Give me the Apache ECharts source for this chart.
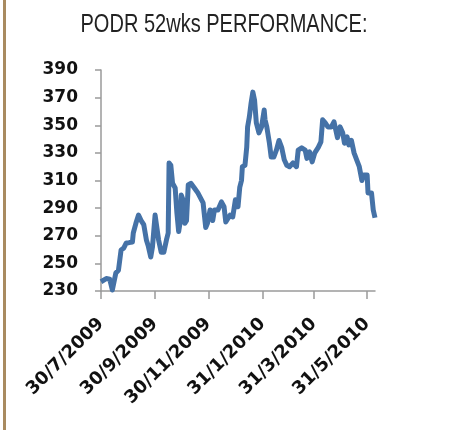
<!DOCTYPE html>
<html>
<head>
<meta charset="utf-8">
<title>PODR 52wks PERFORMANCE</title>
<script src="https://cdn.jsdelivr.net/npm/echarts@6/dist/echarts.min.js"></script>
<style>
  html, body { margin: 0; padding: 0; background: #fff; }
  #wrap { position: relative; width: 473px; height: 430px; }
  #edge { position: absolute; left: 3px; top: 0; width: 3px; height: 430px; background: #a98b60; }
  #chart { position: absolute; left: 0; top: 0; width: 473px; height: 430px; }
</style>
</head>
<body>
<div id="wrap">
  <div id="edge"></div>
  <div id="chart"></div>
</div>
<script>
// closes (approx.)
var dates = [
  '2009-07-30', '2009-08-05', '2009-08-09', '2009-08-12', '2009-08-14', '2009-08-16',
  '2009-08-19', '2009-08-22', '2009-08-25', '2009-08-28', '2009-08-31', '2009-09-04',
  '2009-09-05', '2009-09-08', '2009-09-11', '2009-09-14', '2009-09-17', '2009-09-20',
  '2009-09-22', '2009-09-25', '2009-09-27', '2009-09-30', '2009-10-02', '2009-10-04',
  '2009-10-07', '2009-10-10', '2009-10-13', '2009-10-15', '2009-10-16', '2009-10-18',
  '2009-10-20', '2009-10-23', '2009-10-25', '2009-10-27', '2009-10-29', '2009-10-30',
  '2009-11-01', '2009-11-03', '2009-11-05', '2009-11-07', '2009-11-10', '2009-11-14',
  '2009-11-18', '2009-11-20', '2009-11-24', '2009-11-27', '2009-11-29', '2009-12-02',
  '2009-12-05', '2009-12-07', '2009-12-11', '2009-12-15', '2009-12-18', '2009-12-20',
  '2009-12-22', '2009-12-25', '2009-12-28', '2009-12-31', '2010-01-03', '2010-01-05',
  '2010-01-07', '2010-01-08', '2010-01-11', '2010-01-13', '2010-01-14', '2010-01-16',
  '2010-01-18', '2010-01-20', '2010-01-22', '2010-01-24', '2010-01-27', '2010-01-30',
  '2010-02-02', '2010-02-03', '2010-02-05', '2010-02-08', '2010-02-10', '2010-02-13',
  '2010-02-16', '2010-02-19', '2010-02-22', '2010-02-25', '2010-02-28', '2010-03-03',
  '2010-03-07', '2010-03-11', '2010-03-13', '2010-03-17', '2010-03-21', '2010-03-23',
  '2010-03-26', '2010-03-29', '2010-04-01', '2010-04-05', '2010-04-08', '2010-04-10',
  '2010-04-13', '2010-04-16', '2010-04-20', '2010-04-23', '2010-04-25', '2010-04-27',
  '2010-04-30', '2010-05-03', '2010-05-05', '2010-05-08', '2010-05-10', '2010-05-13',
  '2010-05-16', '2010-05-19', '2010-05-22', '2010-05-25', '2010-05-27', '2010-05-31',
  '2010-06-01', '2010-06-05', '2010-06-07', '2010-06-09'
];
var prices = [
  236.7, 239, 238.5, 230.7, 230.5, 243,
  245, 259.7, 261, 264.8, 265, 265.5,
  272, 279, 285, 281, 278, 267,
  263, 254.6, 262, 285, 283.6, 267,
  258, 258, 267, 272, 322.7, 321,
  308, 304.6, 286.5, 273, 281, 299.5,
  296, 279, 281, 306.8, 308, 304.6,
  301, 301, 293.8, 276, 279, 288.7,
  281, 288.7, 288.7, 294.5, 291, 280,
  279, 285, 283.6, 296, 291, 305,
  310, 320, 321, 334, 348.8, 356,
  366, 374, 368, 351.7, 344.5, 348.8,
  361, 354, 348.8, 337, 327, 327,
  332, 339, 334, 325, 321, 320,
  322.7, 320, 332, 333.6, 332, 326,
  330.7, 323.5, 330, 334, 338, 354,
  351.7, 348.8, 348.8, 352.5, 346.7, 341,
  348.8, 344.5, 337, 341.6, 335.8, 339,
  330, 325, 320, 310, 314, 314,
  301, 301, 288.7, 283
];
var tickDates = ['2009-07-30', '2009-09-30', '2009-11-30', '2010-01-31', '2010-03-31', '2010-05-31'];
var startDate = '2009-07-30';
var endDate = '2010-06-09';

function pad(n) { return n < 10 ? '0' + n : '' + n; }
function isoOf(d) { return d.getFullYear() + '-' + pad(d.getMonth() + 1) + '-' + pad(d.getDate()); }
function fmtDate(s) {
  var p = s.split('-');
  return (+p[2]) + '/' + (+p[1]) + '/' + p[0];
}

// one category per calendar day
var days = [];
(function () {
  var p = startDate.split('-');
  var d = new Date(+p[0], +p[1] - 1, +p[2]);
  while (isoOf(d) <= endDate) {
    days.push(isoOf(d));
    d.setDate(d.getDate() + 1);
  }
})();

var seriesData = dates.map(function (d, i) { return [days.indexOf(d), prices[i]]; });
function onTick(idx, val) { return tickDates.indexOf(val) >= 0; }

var chart = echarts.init(document.getElementById('chart'));
chart.setOption({
  animation: false,
  graphic: [{
    type: 'text',
    x: 224,
    y: 25,
    scaleX: 0.77,
    style: {
      text: 'PODR 52wks PERFORMANCE:',
      textAlign: 'center',
      textVerticalAlign: 'middle',
      font: '26px "Liberation Sans", Arial, sans-serif',
      fill: '#222'
    }
  }],
  grid: { left: 101, right: 98, top: 70, bottom: 139 },
  xAxis: {
    type: 'category',
    data: days,
    boundaryGap: false,
    splitLine: { show: false },
    axisLine: { lineStyle: { color: '#9a9a9a', width: 1.5 } },
    axisTick: { show: true, length: 8, interval: onTick, lineStyle: { color: '#9a9a9a', width: 1.5 } },
    axisLabel: {
      interval: onTick,
      formatter: fmtDate,
      rotate: 45,
      margin: 30,
      verticalAlign: 'middle',
      padding: [9, 0, 0, 0],
      color: '#111',
      fontWeight: 'bold',
      fontSize: 18,
      fontFamily: 'DejaVu Sans'
    }
  },
  yAxis: {
    type: 'value',
    min: 230,
    max: 390,
    interval: 20,
    splitLine: { show: false },
    axisLine: { show: true, lineStyle: { color: '#9a9a9a', width: 1.5 } },
    axisTick: { show: true, length: 6, lineStyle: { color: '#9a9a9a', width: 1.5 } },
    axisLabel: {
      margin: 23,
      color: '#111',
      fontWeight: 'bold',
      fontSize: 17,
      fontFamily: 'DejaVu Sans'
    }
  },
  series: [{
    type: 'line',
    data: seriesData,
    showSymbol: false,
    symbol: 'none',
    lineStyle: { color: '#4572a7', width: 5, join: 'round' },
    itemStyle: { color: '#4572a7' }
  }]
});
</script>
</body>
</html>
